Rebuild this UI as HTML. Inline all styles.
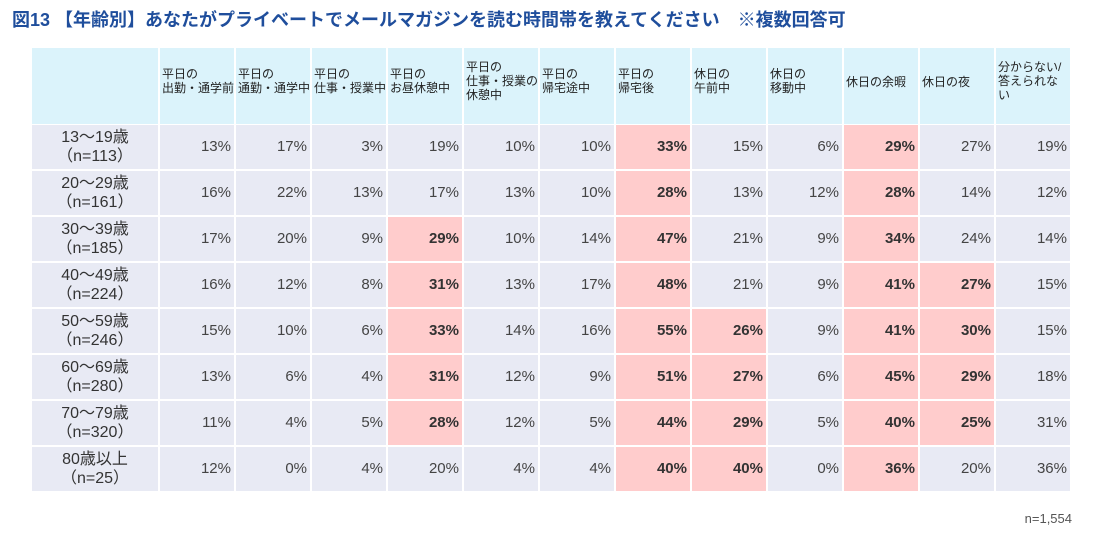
<!DOCTYPE html><html><head><meta charset="utf-8"><style>
body{margin:0;width:1096px;height:536px;background:#fff;position:relative;font-family:"Liberation Sans","Noto Sans CJK JP",sans-serif;overflow:hidden}
.t{position:absolute;left:12px;top:6px;font-size:18px;font-weight:bold;color:#1f4e9c;white-space:nowrap;letter-spacing:0px}
.c{position:absolute;box-sizing:border-box;border:1px solid #fff;background:#e8eaf4;color:#444;font-size:15px;text-align:right;padding-right:3px;line-height:44px}
.p{background:#ffcccc;font-weight:bold;color:#333}
.h{position:absolute;box-sizing:border-box;border:1px solid #fff;background:#dbf3fb;color:#222;font-size:12px;line-height:14px;padding:19px 0 0 2px;white-space:nowrap;letter-spacing:0}
.l{text-align:center;padding:0;line-height:19px;padding-top:3px;color:#333;font-size:16px}
.n{position:absolute;right:24px;top:511px;font-size:13px;color:#555}
</style></head><body>
<div class="t">図13 【年齢別】あなたがプライベートでメールマガジンを読む時間帯を教えてください　※複数回答可</div>
<div id="g"></div>
<div class="n">n=1,554</div>
<script>
var hd=["","平日の<br>出勤・通学前","平日の<br>通勤・通学中","平日の<br>仕事・授業中","平日の<br>お昼休憩中","平日の<br>仕事・授業の<br>休憩中","平日の<br>帰宅途中","平日の<br>帰宅後","休日の<br>午前中","休日の<br>移動中","休日の余暇","休日の夜","分からない/<br>答えられな<br>い"];
var rows=[["13～19歳<br>（n=113）",13,17,3,19,10,10,33,15,6,29,27,19],
["20～29歳<br>（n=161）",16,22,13,17,13,10,28,13,12,28,14,12],
["30～39歳<br>（n=185）",17,20,9,29,10,14,47,21,9,34,24,14],
["40～49歳<br>（n=224）",16,12,8,31,13,17,48,21,9,41,27,15],
["50～59歳<br>（n=246）",15,10,6,33,14,16,55,26,9,41,30,15],
["60～69歳<br>（n=280）",13,6,4,31,12,9,51,27,6,45,29,18],
["70～79歳<br>（n=320）",11,4,5,28,12,5,44,29,5,40,25,31],
["80歳以上<br>（n=25）",12,0,4,20,4,4,40,40,0,36,20,36]];
var pk=[[7,10],[7,10],[4,7,10],[4,7,10,11],[4,7,8,10,11],[4,7,8,10,11],[4,7,8,10,11],[7,8,10]];
function X(i){return i==0?31:159+(i-1)*76}
var s="";
for(var i=0;i<13;i++){var w=i==0?128:76;var pt=(i==10||i==11)?"padding-top:27px;":(i==5||i==12)?"padding-top:12px;":"";
s+='<div class="h" style="left:'+X(i)+'px;top:47px;width:'+w+'px;height:78px;'+pt+'">'+hd[i]+'</div>';}
for(var r=0;r<8;r++){var y=124+r*46;
for(var i=0;i<13;i++){var w=i==0?128:76;
if(i==0)s+='<div class="c l" style="left:31px;top:'+y+'px;width:128px;height:46px">'+rows[r][0]+'</div>';
else{var p=pk[r].indexOf(i)>=0?" p":"";s+='<div class="c'+p+'" style="left:'+X(i)+'px;top:'+y+'px;width:76px;height:46px">'+rows[r][i]+'%</div>';}}}
document.getElementById("g").innerHTML=s;
</script>
</body></html>
